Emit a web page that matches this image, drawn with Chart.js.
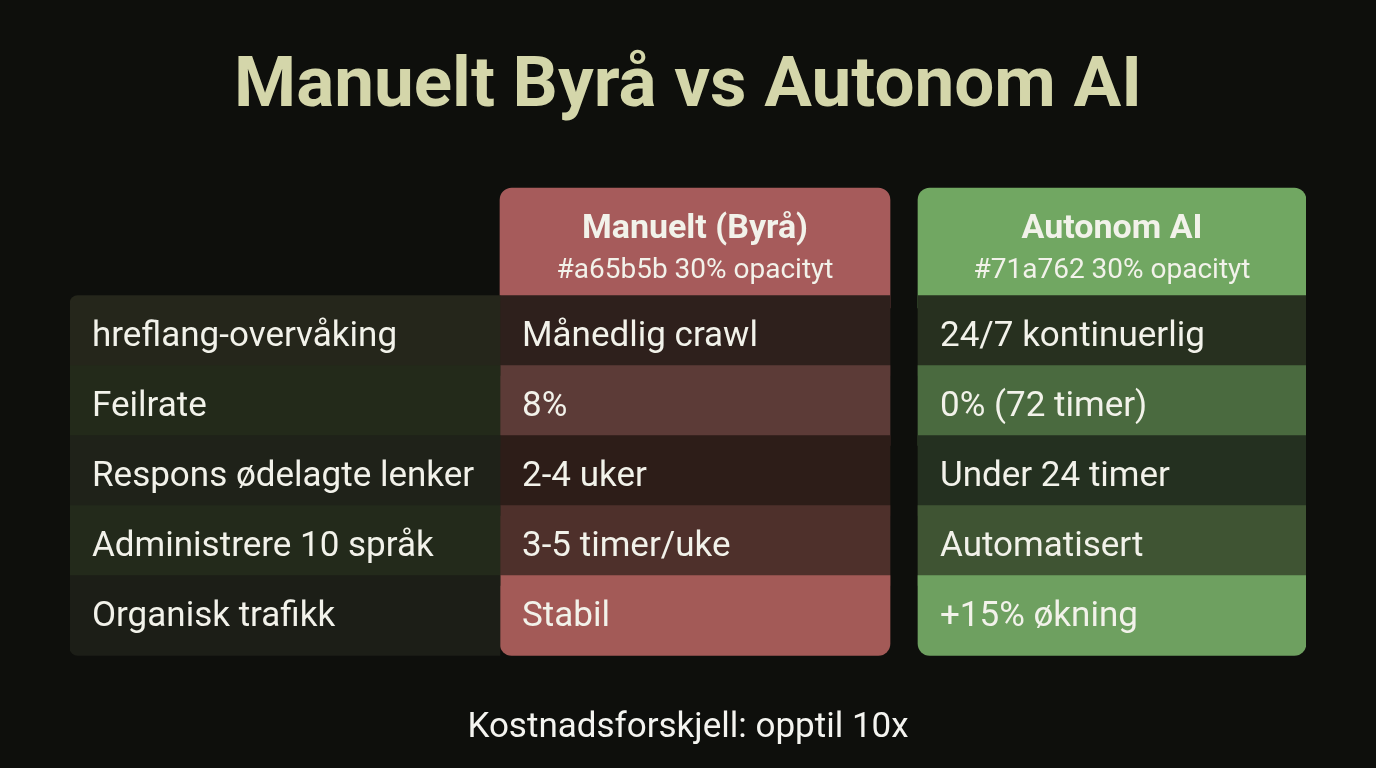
<!DOCTYPE html>
<html>
<head>
<meta charset="utf-8">
<script src="https://cdn.jsdelivr.net/npm/chart.js@4.4.1/dist/chart.umd.min.js"></script>
<style>
  html, body { margin: 0; padding: 0; background: #0e0f0c; }
  #wrap { width: 1376px; height: 768px; }
</style>
</head>
<body>
<div id="wrap"><canvas id="myChart" width="1376" height="768"></canvas></div>
<script>
// table content
var title = 'Manuelt Byrå vs Autonom AI';
var footer = 'Kostnadsforskjell: opptil 10x';
var metrics = ['hreflang-overvåking', 'Feilrate', 'Respons ødelagte lenker', 'Administrere 10 språk', 'Organisk trafikk'];
var manualValues = ['Månedlig crawl', '8%', '2-4 uker', '3-5 timer/uke', 'Stabil'];
var aiValues = ['24/7 kontinuerlig', '0% (72 timer)', 'Under 24 timer', 'Automatisert', '+15% økning'];
var headerTitles = ['Manuelt (Byrå)', 'Autonom AI'];
var headerSubs = ['#a65b5b 30% opacityt', '#71a762 30% opacityt'];

// layout (column edges in px inside chart area, row index units)
var colEdges = [[0, 430], [430, 820], [848, 1236]];
var rowIdx = [0.5, 1.5, 2.5, 3.5, 4.5];
var headerIdx = -0.75;

var metricColors = ['#25261b', '#232a1a', '#1f2219', '#232a1b', '#1c1e17'];
var manualColors = ['#2e201c', '#5c3b37', '#2d1d18', '#4e302b', '#a35a57'];
var aiColors = ['#27301f', '#4a6a3f', '#243020', '#3f5433', '#6ea060'];

function rowData(col){
	return rowIdx.map(function(y){ return { y: y, x: colEdges[col] }; });
}
function lastRound(ctx){
	return ctx.dataIndex === rowIdx.length - 1 ? { topLeft: 0, topRight: 0, bottomLeft: 12, bottomRight: 12 } : 0;
}

var textPlugin = {
	id: 'cellText',
	afterDatasetsDraw: function(chart){
		var c = chart.ctx;
		c.save();
		c.textBaseline = 'middle';
		c.fillStyle = '#f2f2ea';
		c.font = '35px Roboto';
		[0, 1, 2].forEach(function(ds){
			var texts = [metrics, manualValues, aiValues][ds];
			chart.getDatasetMeta(ds).data.forEach(function(el, i){
				c.textAlign = 'left';
				c.fillText(texts[i], Math.min(el.base, el.x) + 22, el.y + 2);
			});
		});
		[3, 4].forEach(function(ds, k){
			var el = chart.getDatasetMeta(ds).data[0];
			var cx = (el.base + el.x) / 2;
			c.textAlign = 'center';
			c.font = 'bold 34px Roboto';
			c.fillText(headerTitles[k], cx, el.y - 19);
			c.font = '28px Roboto';
			c.fillText(headerSubs[k], cx, el.y + 23);
		});
		c.textAlign = 'center';
		c.font = 'bold 71px Roboto';
		c.fillStyle = '#d4d6aa';
		c.fillText(title, 688, 88);
		c.font = '35px Roboto';
		c.fillStyle = '#f4f4f0';
		c.fillText(footer, 688, 728);
		c.restore();
	}
};

var ctx = document.getElementById('myChart').getContext('2d');
var chart = new Chart(ctx, {
	type: 'bar',
	data: {
		datasets: [
			{ data: rowData(0), backgroundColor: metricColors, barThickness: 80, borderRadius: function(c){ return c.dataIndex === 0 ? { topLeft: 8 } : (c.dataIndex === 4 ? { bottomLeft: 8 } : 0); }, borderSkipped: false },
			{ data: rowData(1), backgroundColor: manualColors, barThickness: 80, borderRadius: lastRound, borderSkipped: false },
			{ data: rowData(2), backgroundColor: aiColors, barThickness: 80, borderRadius: lastRound, borderSkipped: false },
			{ data: [{ y: headerIdx, x: colEdges[1] }], backgroundColor: '#a65b5b', barThickness: 120, borderRadius: { topLeft: 12, topRight: 12 }, borderSkipped: false },
			{ data: [{ y: headerIdx, x: colEdges[2] }], backgroundColor: '#71a762', barThickness: 120, borderRadius: { topLeft: 12, topRight: 12 }, borderSkipped: false }
		]
	},
	options: {
		indexAxis: 'y',
		responsive: false,
		animation: false,
		grouped: false,
		layout: { padding: { left: 70, right: 70, top: 163, bottom: 85 } },
		scales: {
			x: { type: 'linear', display: false, min: 0, max: 1236 },
			y: { type: 'linear', display: false, min: -1.5, max: 5, reverse: true }
		},
		plugins: { legend: { display: false }, tooltip: { enabled: false } }
	},
	plugins: [textPlugin]
});
</script>
</body>
</html>
